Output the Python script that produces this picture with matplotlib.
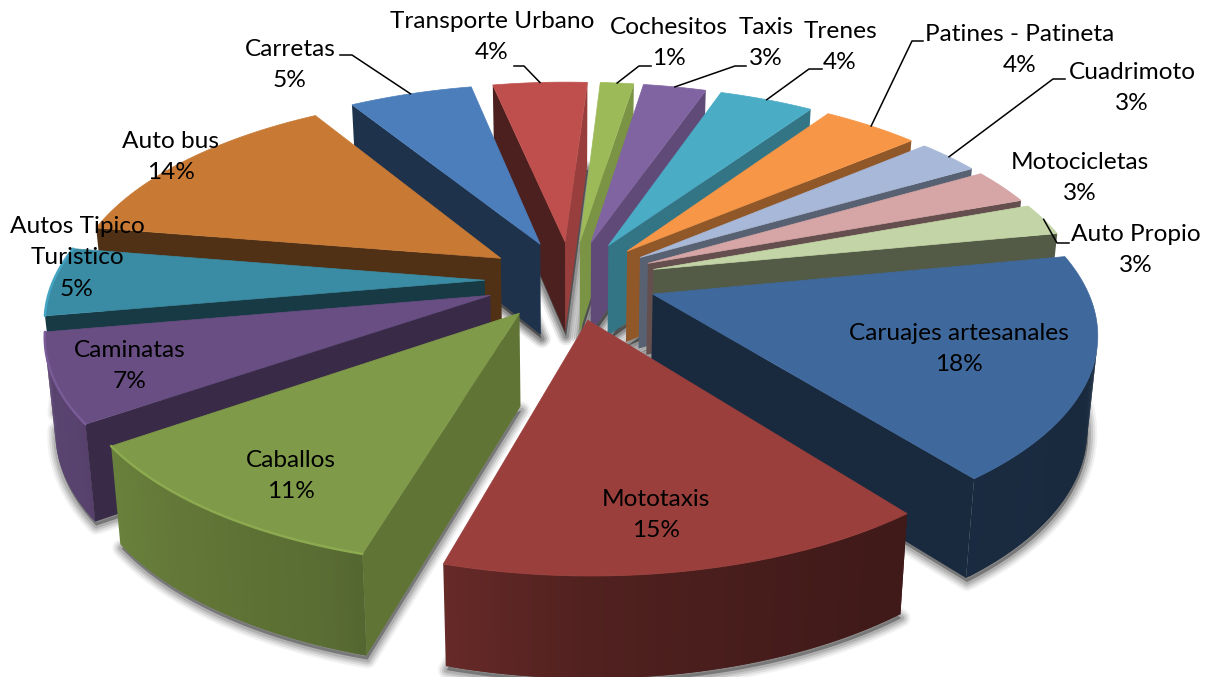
import numpy as np
import matplotlib
matplotlib.use("Agg")
import matplotlib.pyplot as plt
from matplotlib.colors import to_rgb
from matplotlib.patches import Polygon

# ---- data -------------------------------------------------------------
categories = ["Caruajes artesanales", "Mototaxis", "Caballos", "Caminatas",
              "Autos Tipico\nTuristico", "Auto bus", "Carretas", "Transporte Urbano",
              "Cochesitos", "Taxis", "Trenes", "Patines - Patineta",
              "Cuadrimoto", "Motocicletas", "Auto Propio"]
values = [17.5, 14.95, 10.8, 6.9, 5.4, 13.6, 5.49, 4.2, 1.49, 2.8, 4.2, 4.3, 2.8, 2.8, 2.55]
top_colors = ["#3F689C", "#9A3F3C", "#7F9A48", "#684E82", "#3A8BA4", "#C87A35", "#4C7EBB",
              "#BE4F4C", "#9CBB58", "#8064A2", "#4BACC6", "#F79646", "#A7B8D8", "#D6A5A5", "#C3D5A6"]
label_xy = [(959, 349), (656, 515), (291, 476), (130, 366), (77, 258), (171, 157), (290, 65),
            (492, 37), (669, 43), (766, 43), (840, 47), (1020, 50), (1132, 88), (1080, 178), (1136, 250)]
# leader anchor at the label, then elbow; the far end comes from the slice itself
leaders = {"Carretas": [(340, 55), (352, 55)],
           "Transporte Urbano": [(514, 66), (524, 66)],
           "Cochesitos": [(651, 66), (639, 66)],
           "Taxis": [(746, 66), (735, 66)],
           "Trenes": [(822, 69), (809, 69)],
           "Patines - Patineta": [(923, 41), (912, 41)],
           "Cuadrimoto": [(1065, 79), (1053, 79)],
           "Auto Propio": [(1069, 243), (1057, 243)]}

START_ANGLE = 11.0
EXPLODE = 0.2
CX, CY, AX, BY, PERSP = 571.0, 280.0, 431.0, 198.0, 0.167
DEPTH, PERSP_D, XSHRINK = 92.0, 0.085, 0.98

plt.rcParams["font.family"] = ["Lato", "DejaVu Sans"]
fig = plt.figure(figsize=(12.12, 6.77), dpi=100)
ax = fig.add_axes([0, 0, 1, 1])
ax.set_xlim(0, 1212)
ax.set_ylim(677, 0)
ax.axis("off")


def top_xy(u, v):
    w = 1 + PERSP * v
    return CX + AX * u / w, CY - BY * v / w


def bottom_xy(u, v):
    x, y = top_xy(u, v)
    return CX + (x - CX) * XSHRINK, y + DEPTH / (1 + PERSP_D * v)


def area(q):
    q = np.asarray(q)
    x, y = q[:, 0], q[:, 1]
    return 0.5 * np.sum(x * np.roll(y, -1) - np.roll(x, -1) * y)


def shade(color, s):
    return tuple(min(1, c * s) for c in to_rgb(color))


RAD_X, RAD_S = [-180, -100, -80, -55, -33, -5, 90], [.40, .40, .42, .55, .68, .80, .80]
ARC_X, ARC_S = [-210, -150, -110, -90, -60, -30, 150], [.90, .85, .70, .52, .42, .40, .40]


def wrap(t, low):
    return (t - low) % 360 + low


sizes = np.asarray(values, float)
sweeps = sizes / sizes.sum() * 360
hi = START_ANGLE - np.concatenate([[0], np.cumsum(sweeps)[:-1]])
lo = hi - sweeps
mid = (hi + lo) / 2
order = list(np.argsort(-np.sin(np.radians(mid))))
mid_points = {}

for rank, i in enumerate(order):
    color = top_colors[i]
    ox, oy = EXPLODE * np.cos(np.radians(mid[i])), EXPLODE * np.sin(np.radians(mid[i]))
    angles = np.linspace(lo[i], hi[i], max(4, int(sweeps[i]) * 2))
    us = ox + np.cos(np.radians(angles))
    vs = oy + np.sin(np.radians(angles))
    top_pts = [top_xy(ox, oy)] + [top_xy(u, v) for u, v in zip(us, vs)]
    bot_pts = [bottom_xy(ox, oy)] + [bottom_xy(u, v) for u, v in zip(us, vs)]
    mid_points[categories[i]] = top_xy(ox + np.cos(np.radians(mid[i])), oy + np.sin(np.radians(mid[i])))

    # soft cast shadow under the solid, denser among the tightly packed back slices
    shadow = [(x + 1, y + 4) for x, y in bot_pts]
    boost = 1.5 if np.sin(np.radians(mid[i])) > 0.7 else 1.0
    for lw, a in zip((13, 10, 7, 4), (.05, .08, .10, .12)):
        ax.add_patch(Polygon(shadow, closed=True, facecolor=(0, 0, 0, a * boost), edgecolor=(0, 0, 0, a * boost),
                             lw=lw, joinstyle="round", zorder=1 + rank * 0.01))

    z = 2 + rank
    n = len(top_pts)
    for k in range(n):
        j = (k + 1) % n
        if area([top_pts[k], top_pts[j], bot_pts[j], bot_pts[k]]) <= 0:
            continue
        # arc quads overlap the next one so that no seams show between them
        e = j + 1 if (k > 0 and j > 0 and j + 1 < n) else j
        quad = [top_pts[k], top_pts[e], bot_pts[e], bot_pts[k]]
        if k == 0:
            s = np.interp(wrap(lo[i] - 90, -180), RAD_X, RAD_S)
        elif j == 0:
            s = np.interp(wrap(hi[i] + 90, -180), RAD_X, RAD_S)
        else:
            s = np.interp(wrap((angles[k - 1] + angles[k]) / 2, -210), ARC_X, ARC_S)
        ax.add_patch(Polygon(quad, closed=True, facecolor=shade(color, s), edgecolor="none", zorder=z))
    ax.add_patch(Polygon(top_pts, closed=True, facecolor=color, edgecolor=color, lw=0.5, zorder=z + 0.2))
    rim_gain = 1 + 0.18 * max(0.0, -np.cos(np.radians(mid[i])))
    if np.sin(np.radians(mid[i])) < 0 and rim_gain > 1:
        rim = np.array(top_pts[1:])
        ax.plot(rim[:, 0], rim[:, 1], color=shade(color, rim_gain), lw=1.8,
                solid_capstyle="round", zorder=z + 0.3)

ZT = 50
for name, xy, pct in zip(categories, label_xy, values):
    ax.text(xy[0], xy[1], f"{name}\n{round(pct):d}%", ha="center", va="center", fontsize=17.6,
            color="black", linespacing=1.6, zorder=ZT)
for name, pts in leaders.items():
    line = np.array(pts + [mid_points[name]])
    ax.plot(line[:, 0], line[:, 1], color="black", lw=1.1, zorder=ZT - 1)

fig.savefig("out.png", dpi=100, facecolor="white")
